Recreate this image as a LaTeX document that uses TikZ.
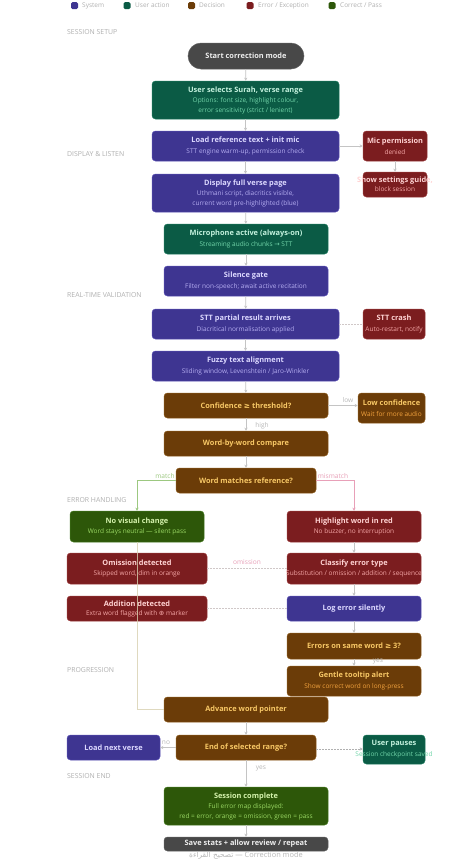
\documentclass[tikz,border=0pt]{standalone}
\usepackage{fontspec}
\setmainfont{Open Sans}
\newfontfamily\symf{DejaVu Sans}
\newfontfamily\arabicfont[Script=Arabic]{DejaVu Sans}
\TeXXeTstate=1
\usetikzlibrary{arrows.meta}
\definecolor{sysF}{HTML}{3E3591}\definecolor{sysD}{HTML}{5A50B5}\definecolor{sysT}{HTML}{DCD8FF}\definecolor{sysS}{HTML}{B4ACF0}
\definecolor{usrF}{HTML}{0B5B45}\definecolor{usrD}{HTML}{1D7A5E}\definecolor{usrT}{HTML}{C4F2DE}\definecolor{usrS}{HTML}{72D6AA}
\definecolor{decF}{HTML}{6B3C08}\definecolor{decD}{HTML}{8C5A1C}\definecolor{decT}{HTML}{F8C866}\definecolor{decS}{HTML}{F2A23E}
\definecolor{errF}{HTML}{7B1D1F}\definecolor{errD}{HTML}{9A3A3A}\definecolor{errT}{HTML}{FFD2D2}\definecolor{errS}{HTML}{F4A6A6}
\definecolor{pasF}{HTML}{2D5709}\definecolor{pasD}{HTML}{457A20}\definecolor{pasT}{HTML}{D4F2AC}\definecolor{pasS}{HTML}{9AD864}
\definecolor{gryF}{HTML}{484848}\definecolor{gryD}{HTML}{606060}\definecolor{gryT}{HTML}{EEEEEE}
\definecolor{lnC}{HTML}{C4C4C4}\definecolor{labC}{HTML}{B8B8B8}\definecolor{secC}{HTML}{B0B0B0}
\definecolor{grnL}{HTML}{9CC880}\definecolor{pnkL}{HTML}{E8A0B8}\definecolor{begL}{HTML}{D8D0B0}\definecolor{dshC}{HTML}{D0C8C8}
\newcommand\ttl[1]{{\fontsize{7.4}{10.5}\selectfont\bfseries #1}}
\begin{document}
\begin{tikzpicture}[x=1pt,y=-1pt,
  box/.style={rounded corners=3.5pt, inner sep=0pt, align=center, line width=0.5pt, font=\fontsize{6.5}{10.5}\selectfont},
  sys/.style={box, fill=sysF, draw=sysD, text=sysT},
  usr/.style={box, fill=usrF, draw=usrD, text=usrT},
  dec/.style={box, fill=decF, draw=decD, text=decT},
  err/.style={box, fill=errF, draw=errD, text=errT},
  pas/.style={box, fill=pasF, draw=pasD, text=pasT},
  gry/.style={box, fill=gryF, draw=gryD, text=gryT},
  sz/.style 2 args={minimum width=#1pt, minimum height=#2pt},
  conn/.style={draw=lnC, line width=0.7pt, -{Stealth[length=3pt,width=3pt]}},
  dsh/.style={draw=dshC, line width=0.6pt, dash pattern=on 1.5pt off 1.5pt},
  lab/.style={font=\fontsize{6.6}{7}\selectfont, text=labC, inner sep=0.5pt},
  sec/.style={font=\fontsize{6.9}{7}\selectfont, text=secC, anchor=west, inner sep=0pt},
  leg/.style={minimum size=7pt, inner sep=0pt, rounded corners=1.5pt},
  legt/.style={font=\fontsize{6.5}{7}\selectfont, text=secC, anchor=west, inner sep=0pt},
  ovl/.style={align=center, inner sep=0pt, font=\fontsize{6.5}{10.5}\selectfont}
]
\useasboundingbox[fill=white] (0,0) rectangle (471,863);
% legend
\node[leg, fill=sysF] (l1) at (74.5,5.5) {};
\node[legt] (l1t) at (82,5.5) {System};
\node[leg, fill=usrF] (l2) at (127,5.5) {};
\node[legt] (l2t) at (135,5.5) {User action};
\node[leg, fill=decF] (l3) at (191.5,5.5) {};
\node[legt] (l3t) at (199,5.5) {Decision};
\node[leg, fill=errF] (l4) at (250,5.5) {};
\node[legt] (l4t) at (258,5.5) {Error / Exception};
\node[leg, fill=pasF] (l5) at (332,5.5) {};
\node[legt] (l5t) at (340,5.5) {Correct / Pass};
% sections
\node[sec] (s1) at (67,32.5) {SESSION SETUP};
\node[sec] (s2) at (67,154.5) {DISPLAY \& LISTEN};
\node[sec] (s3) at (67,295.5) {REAL-TIME VALIDATION};
\node[sec] (s4) at (67,500.5) {ERROR HANDLING};
\node[sec] (s5) at (67,670.5) {PROGRESSION};
\node[sec] (s6) at (67,776.5) {SESSION END};
% nodes
\node[gry, sz={116}{26}, rounded corners=13pt] (start) at (246,56) {\ttl{Start correction mode}};
\node[usr, sz={187}{38}] (usel) at (245.5,100) {\ttl{User selects Surah, verse range}\\[-0.5pt]\textcolor{usrS}{Options: font size, highlight colour,}\\[-0.5pt]\textcolor{usrS}{error sensitivity (strict / lenient)}};
\node[sys, sz={187}{30}] (load) at (245.5,146) {\ttl{Load reference text + init mic}\\\textcolor{sysS}{STT engine warm-up, permission check}};
\node[err, sz={64}{30}] (mic) at (395,146) {\ttl{Mic permission}\\\textcolor{errS}{denied}};
\node[err, sz={64}{25}, label={[ovl, text=errT]center:{\ttl{Show settings guide,}\\[-1.5pt]\textcolor{errS}{block session}}}] (show) at (395,184.5) {};
\node[sys, sz={187}{38}] (disp) at (245.5,193) {\ttl{Display full verse page}\\[-0.5pt]\textcolor{sysS}{Uthmani script, diacritics visible,}\\[-0.5pt]\textcolor{sysS}{current word pre-highlighted (blue)}};
\node[usr, sz={164}{30}] (mica) at (246,239) {\ttl{Microphone active (always-on)}\\\textcolor{usrS}{Streaming audio chunks {\symf →} STT}};
\node[sys, sz={164}{30}] (sil) at (246,281) {\ttl{Silence gate}\\\textcolor{sysS}{Filter non-speech; await active recitation}};
\node[sys, sz={187}{30}] (stt) at (245.5,324) {\ttl{STT partial result arrives}\\\textcolor{sysS}{Diacritical normalisation applied}};
\node[err, sz={62}{30}, label={[ovl, text=errT]center:{\ttl{STT crash}\\\textcolor{errS}{Auto-restart, notify}}}] (crash) at (394,324) {};
\node[sys, sz={187}{30}] (fuzzy) at (245.5,366) {\ttl{Fuzzy text alignment}\\\textcolor{sysS}{Sliding window, Levenshtein / Jaro-Winkler}};
\node[dec, sz={164}{25}] (conf) at (246,405.5) {\ttl{Confidence {\symf ≥} threshold?}};
\node[dec, sz={67}{30}, label={[ovl, text=decT]center:{\ttl{Low confidence}\\\textcolor{decS}{Wait for more audio}}}] (low) at (391.5,408) {};
\node[dec, sz={164}{25}] (wbw) at (246,443.5) {\ttl{Word-by-word compare}};
\node[dec, sz={140}{25}] (wm) at (246,480.5) {\ttl{Word matches reference?}};
\node[pas, sz={134}{31}] (nv) at (137,526.5) {\ttl{No visual change}\\\textcolor{pasS}{Word stays neutral — silent pass}};
\node[err, sz={134}{31}] (hl) at (354,526.5) {\ttl{Highlight word in red}\\\textcolor{errS}{No buzzer, no interruption}};
\node[err, sz={140}{31}] (om) at (137,568.5) {\ttl{Omission detected}\\\textcolor{errS}{Skipped word, dim in orange}};
\node[err, sz={134}{31}, label={[ovl, text=errT]center:{\ttl{Classify error type}\\\textcolor{errS}{Substitution / omission / addition / sequence}}}] (cl) at (354,568.5) {};
\node[err, sz={140}{25}] (ad) at (137,608.5) {\ttl{Addition detected}\\[-1.5pt]\textcolor{errS}{Extra word flagged with {\symf ⊕} marker}};
\node[sys, sz={134}{25}] (lg) at (354,608.5) {\ttl{Log error silently}};
\node[dec, sz={134}{26}] (err3) at (354,646) {\ttl{Errors on same word {\symf ≥} 3?}};
\node[dec, sz={134}{30}] (gen) at (354,681) {\ttl{Gentle tooltip alert}\\\textcolor{decS}{Show correct word on long-press}};
\node[dec, sz={164}{25}] (adv) at (246,709.5) {\ttl{Advance word pointer}};
\node[sys, sz={93}{25}] (lnv) at (113.5,747.5) {\ttl{Load next verse}};
\node[dec, sz={140}{25}] (endr) at (246,747.5) {\ttl{End of selected range?}};
\node[usr, sz={62}{29}, label={[ovl, text=usrT]center:{\ttl{User pauses}\\[0.5pt]\textcolor{usrS}{Session checkpoint saved}}}] (pause) at (394,749.5) {};
\node[pas, sz={164}{38}] (done) at (246,806) {\ttl{Session complete}\\[-0.5pt]\textcolor{pasS}{Full error map displayed:}\\[-0.5pt]\textcolor{pasS}{red = error, orange = omission, green = pass}};
\node[gry, sz={164}{14}] (save) at (246,844) {\ttl{Save stats + allow review / repeat}};
\node[font=\fontsize{7.4}{8}\selectfont, text=labC, inner sep=0pt] (foot) at (246,855.5) {{\arabicfont\beginR تصحيح القراءة\endR} — Correction mode};
% connectors
\draw[conn] (start) -- (usel);
\draw[conn] (usel) -- (load);
\draw[conn] (load) -- (disp);
\draw[conn] (disp) -- (mica);
\draw[conn] (mica) -- (sil);
\draw[conn] (sil) -- (stt);
\draw[conn] (stt) -- (fuzzy);
\draw[conn] (fuzzy) -- (conf);
\draw[conn] (conf) -- (wbw);
\draw[conn] (wbw) -- (wm);
\draw[conn] (load.east) -- (mic.west);
\draw[conn] (mic) -- (show);
\draw[dsh] (stt.east) -- (stt.east -| crash.west);
\draw[conn] (conf.east) -- (conf.east -| low.west);
\draw[conn, draw=grnL] (wm.west) -- (nv.north |- wm.west) -- (nv.north);
\draw[conn, draw=pnkL] (wm.east) -- (hl.north |- wm.east) -- (hl.north);
\draw[conn] (hl) -- (cl);
\draw[conn] (cl) -- (lg);
\draw[conn] (lg) -- (err3);
\draw[conn] (err3) -- (gen);
\draw[dsh] (cl.west) -- (om.east);
\draw[dsh] (lg.west) -- (ad.east);
\draw[begL, line width=0.7pt, draw opacity=0.8] (nv.south) -- (nv.south |- adv.west) -- (adv.west);
\draw[conn] (adv) -- (endr);
\draw[conn] (endr.west) -- (lnv.east);
\draw[conn, dash pattern=on 1.5pt off 1.5pt, draw=lnC!90!black] (endr.east) ++(0,1.5) coordinate (pe) -- (pe -| pause.west);
\draw[conn] (endr) -- (done);
\draw[conn] (done) -- (save);
% edge labels
\node[lab] (tHigh) at (262,425.5) {high};
\node[lab] (tLow) at (348,400.5) {low};
\node[lab, text=grnL] (tMatch) at (165,476) {match};
\node[lab, text=pnkL] (tMis) at (333,476) {mismatch};
\node[lab, text=pnkL] (tOm) at (247,562.5) {omission};
\node[lab] (tYes1) at (378,661.5) {yes};
\node[lab] (tNo) at (166,742.5) {no};
\node[lab] (tYes2) at (261,768) {yes};
\end{tikzpicture}
\end{document}
